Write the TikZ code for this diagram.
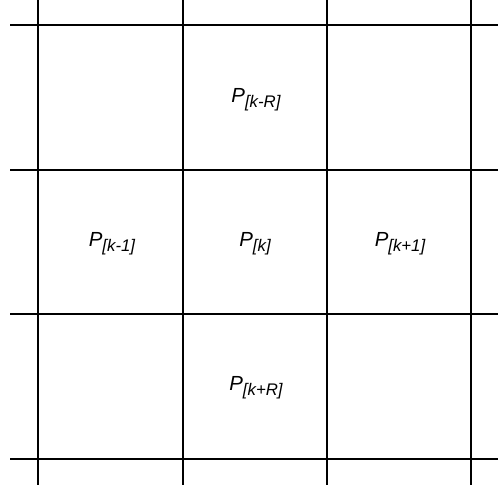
\documentclass[tikz,border=0pt]{standalone}
\usepackage{fontspec}
\setmainfont{Liberation Sans}
\newcommand{\plab}[1]{{\fontsize{20.4}{24}\selectfont\itshape P\raisebox{-5pt}{\fontsize{16.8}{20}\selectfont\itshape[#1]}}}
\begin{document}
\begin{tikzpicture}[x=1pt,y=-1pt,
  gridline/.style={line width=1.8pt,black},
  lab/.style={inner sep=0pt,anchor=center}]
\useasboundingbox (0,0) rectangle (498,488);
% vertical lines
\foreach \x in {38,183,327,471} \draw[gridline] (\x,0) -- (\x,485);
% horizontal lines
\foreach \y in {25,170,314,459} \draw[gridline] (10,\y) -- (498,\y);
\node[lab] (kR) at (256,100) {\plab{k-R}};
\node[lab] (km) at (112,244) {\plab{k-1}};
\node[lab] (k) at (255,244) {\plab{k}};
\node[lab] (kp) at (400,244) {\plab{k+1}};
\node[lab] (kpR) at (256,388) {\plab{k+R}};
\end{tikzpicture}
\end{document}
